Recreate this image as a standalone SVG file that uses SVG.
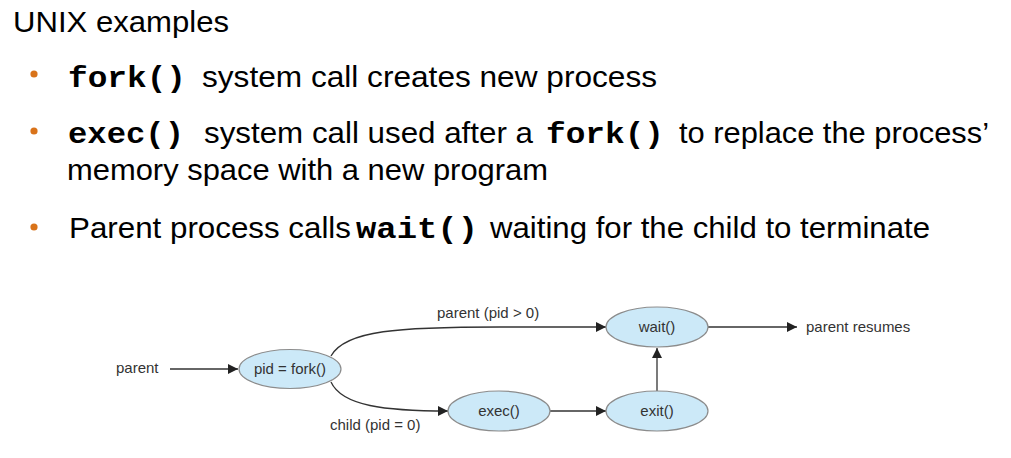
<svg xmlns="http://www.w3.org/2000/svg" width="1011" height="458" viewBox="0 0 1011 458">
<style>
.body{font-family:"Liberation Sans",Arial,sans-serif;font-size:30px;fill:#000}
.mono{font-family:"Liberation Mono","Courier New",monospace;font-size:30px;font-weight:bold;fill:#000}
.bul{fill:#d9731a}
.node ellipse{fill:#cce9f8;stroke:#8c8c8c;stroke-width:1.2}
.lbl{font-family:"Liberation Sans",Arial,sans-serif;font-size:15px;fill:#333}
.mid{text-anchor:middle}
.conn path,.conn line{fill:none;stroke:#333;stroke-width:1.3;marker-end:url(#ah)}
</style>
<defs>
<marker id="ah" markerUnits="userSpaceOnUse" markerWidth="11" markerHeight="10" refX="10" refY="5" orient="auto">
<path d="M0,0 L10,5 L0,10 Z" fill="#222"/>
</marker>
</defs>
<rect width="1011" height="458" fill="#fff"/>
<g id="text">
<text class="body" x="13" y="32" font-size="28" textLength="216" lengthAdjust="spacingAndGlyphs">UNIX examples</text>
<circle class="bul" cx="34" cy="74" r="3.6"/>
<text class="mono" x="68" y="87" textLength="118" lengthAdjust="spacingAndGlyphs">fork()</text>
<text class="body" x="202" y="87" textLength="455" lengthAdjust="spacingAndGlyphs">system call creates new process</text>
<circle class="bul" cx="34" cy="131" r="3.6"/>
<text class="mono" x="68" y="143" textLength="116" lengthAdjust="spacingAndGlyphs">exec()</text>
<text class="body" x="204" y="143" textLength="329" lengthAdjust="spacingAndGlyphs">system call used after a</text>
<text class="mono" x="546" y="143" textLength="118" lengthAdjust="spacingAndGlyphs">fork()</text>
<text class="body" x="679" y="143" textLength="310" lengthAdjust="spacingAndGlyphs">to replace the process’</text>
<text class="body" x="67" y="180" textLength="481" lengthAdjust="spacingAndGlyphs">memory space with a new program</text>
<circle class="bul" cx="34" cy="227" r="3.6"/>
<text class="body" x="69" y="238" textLength="282" lengthAdjust="spacingAndGlyphs">Parent process calls</text>
<text class="mono" x="356" y="238" textLength="122" lengthAdjust="spacingAndGlyphs">wait()</text>
<text class="body" x="490" y="238" textLength="440" lengthAdjust="spacingAndGlyphs">waiting for the child to terminate</text>
</g>
<g id="connectors" class="conn">
<line x1="170" y1="369" x2="238" y2="369"/>
<path d="M331 356 C345 330 400 327 500 327 L606 327"/>
<path d="M331 382 C342 406 385 411 448 411"/>
<line x1="550" y1="411" x2="606" y2="411"/>
<line x1="657" y1="392" x2="657" y2="348"/>
<line x1="708" y1="327" x2="797" y2="327"/>
</g>
<g id="labels">
<text class="lbl" x="116" y="373">parent</text>
<text class="lbl" x="437" y="318">parent (pid &gt; 0)</text>
<text class="lbl" x="330" y="430">child (pid = 0)</text>
<text class="lbl" x="806" y="332">parent resumes</text>
</g>
<g id="fork" class="node">
<ellipse cx="290" cy="369" rx="51" ry="19.5"/>
<text class="lbl mid" x="290" y="374">pid = fork()</text>
</g>
<g id="exec" class="node">
<ellipse cx="499" cy="411" rx="51" ry="20"/>
<text class="lbl mid" x="499" y="416">exec()</text>
</g>
<g id="wait" class="node">
<ellipse cx="657" cy="327" rx="51" ry="20"/>
<text class="lbl mid" x="657" y="332">wait()</text>
</g>
<g id="exit" class="node">
<ellipse cx="657" cy="411" rx="51" ry="20"/>
<text class="lbl mid" x="657" y="416">exit()</text>
</g>
</svg>
